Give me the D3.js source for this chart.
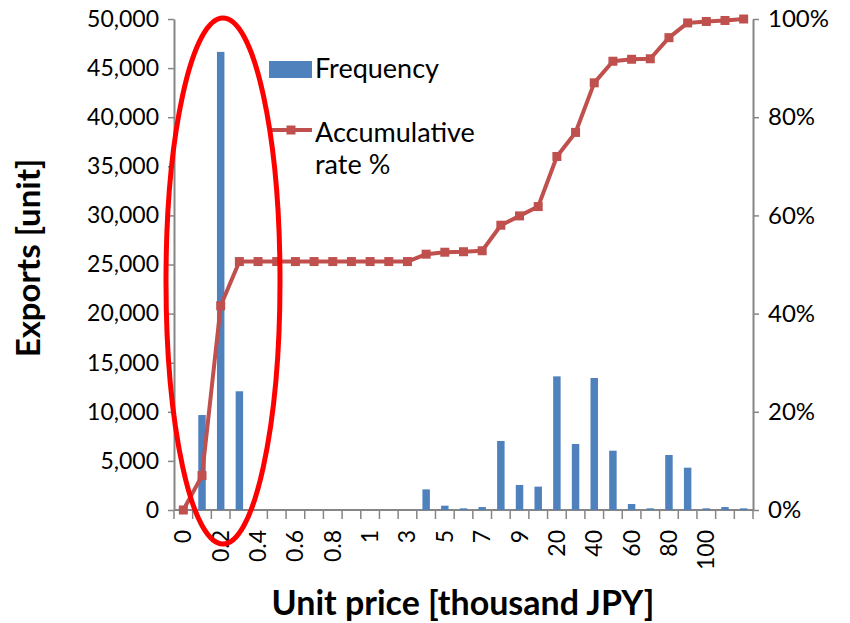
<!DOCTYPE html>
<html>
<head>
<meta charset="utf-8">
<script src="https://cdn.jsdelivr.net/npm/d3@7/dist/d3.min.js"></script>
<style>
  html, body { margin: 0; padding: 0; background: #ffffff; }
  svg { display: block; font-family: Lato, "Open Sans", sans-serif; }
</style>
</head>
<body>
<svg id="chart" width="850" height="623"></svg>
<script>
// Price classes (thousand JPY); every other one carries a label on the axis
const categories = ["0","0.1","0.2","0.3","0.4","0.5","0.6","0.7","0.8","0.9",
                    "1","2","3","4","5","6","7","8","9","10",
                    "20","30","40","50","60","70","80","90","100","110","120"];
const xTickLabels = ["0","0.2","0.4","0.6","0.8","1","3","5","7","9","20","40","60","80","100"];

// Number of exported units per price class
const frequency = [0, 9670, 46650, 12090, 0, 0, 0, 0, 0, 0,
                   0, 0, 0, 2100, 440, 170, 300, 7030, 2550, 2380,
                   13610, 6720, 13440, 6040, 610, 170, 5600, 4310, 170, 300, 170];

// Accumulative rate (%) up to each price class
const accumulative = [0, 7.0, 41.6, 50.6, 50.6, 50.6, 50.6, 50.6, 50.6, 50.6,
                      50.6, 50.6, 50.6, 52.1, 52.5, 52.6, 52.8, 58.0, 59.9, 61.8,
                      72.0, 76.9, 87.0, 91.4, 91.8, 91.9, 96.2, 99.2, 99.5, 99.7, 100];

const leftTicks = [0, 5000, 10000, 15000, 20000, 25000, 30000, 35000, 40000, 45000, 50000];
const rightTicks = [0, 20, 40, 60, 80, 100];

const barColor = "#4F81BD";
const lineColor = "#C0504D";
const axisColor = "#868686";

const svg = d3.select("#chart");
const plot = { left: 174, right: 753, top: 19, bottom: 510 };

const x = d3.scaleBand().domain(categories).range([plot.left, plot.right]).padding(0);
const yL = d3.scaleLinear().domain([0, 50000]).range([plot.bottom, plot.top]);
const yR = d3.scaleLinear().domain([0, 100]).range([plot.bottom, plot.top]);

const fmt = d3.format(",");

// Left axis
const gL = svg.append("g").attr("transform", `translate(${plot.left},0)`)
  .call(d3.axisLeft(yL).tickValues(leftTicks).tickFormat(fmt).tickSize(6).tickPadding(9).tickSizeOuter(0));
// Right axis
const gR = svg.append("g").attr("transform", `translate(${plot.right},0)`)
  .call(d3.axisRight(yR).tickValues(rightTicks).tickFormat(d => d + "%").tickSize(6).tickPadding(9).tickSizeOuter(0));

[gL, gR].forEach(g => {
  g.select(".domain").attr("stroke", axisColor).attr("stroke-width", 2);
  g.selectAll(".tick line").attr("stroke", axisColor).attr("stroke-width", 1.5);
  g.selectAll(".tick text").attr("fill", "#000").style("font-size", "23px")
    .style("font-family", "Lato, sans-serif");
});
gR.selectAll(".tick text").style("font-size", "24px");

// Bottom axis: tick marks sit between classes, labels at class centres
const gB = svg.append("g").attr("transform", `translate(0,${plot.bottom})`);
gB.append("line").attr("x1", plot.left).attr("x2", plot.right)
  .attr("stroke", axisColor).attr("stroke-width", 2);
const bounds = categories.map(c => x(c)).concat([x.range()[1]]);
gB.selectAll("line.tickmark").data(bounds).join("line")
  .attr("class", "tickmark")
  .attr("x1", d => d).attr("x2", d => d).attr("y1", 0).attr("y2", 9)
  .attr("stroke", axisColor).attr("stroke-width", 1.5);
const labelIndex = xTickLabels.map(l => categories.indexOf(l));
gB.selectAll("text.xlab").data(labelIndex).join("text")
  .attr("class", "xlab")
  .attr("transform", i => `translate(${x(categories[i]) + x.bandwidth() / 2 + 8},20) rotate(-90)`)
  .attr("text-anchor", "end")
  .style("font-size", "23px")
  .text(i => categories[i]);

// Frequency bars
const barW = x.bandwidth() * 0.4;
svg.append("g").selectAll("rect").data(categories).join("rect")
  .attr("x", (c) => x(c) + (x.bandwidth() - barW) / 2)
  .attr("y", (c, i) => yL(frequency[i]))
  .attr("width", barW)
  .attr("height", (c, i) => plot.bottom - yL(frequency[i]))
  .attr("fill", barColor);

// Accumulative rate line with square markers
const pts = categories.map((c, i) => [x(c) + x.bandwidth() / 2, yR(accumulative[i])]);
svg.append("path").datum(pts)
  .attr("d", d3.line())
  .attr("fill", "none").attr("stroke", lineColor).attr("stroke-width", 4)
  .attr("stroke-linejoin", "round");
const m = 9;
svg.append("g").selectAll("rect").data(pts).join("rect")
  .attr("x", d => d[0] - m / 2).attr("y", d => d[1] - m / 2)
  .attr("width", m).attr("height", m).attr("fill", lineColor);

// Legend
const lg = svg.append("g").style("font-size", "27px");
lg.append("rect").attr("x", 269).attr("y", 61).attr("width", 43).attr("height", 17).attr("fill", barColor);
lg.append("text").attr("x", 315).attr("y", 78).text("Frequency");
lg.append("line").attr("x1", 270).attr("x2", 312).attr("y1", 130).attr("y2", 130)
  .attr("stroke", lineColor).attr("stroke-width", 4);
lg.append("rect").attr("x", 291 - m / 2).attr("y", 130 - m / 2).attr("width", m).attr("height", m).attr("fill", lineColor);
lg.append("text").attr("x", 315).attr("y", 142).text("Accumulative");
lg.append("text").attr("x", 315).attr("y", 174).text("rate %");

// Axis titles
svg.append("text")
  .attr("transform", "translate(40,258) rotate(-90)")
  .attr("text-anchor", "middle")
  .style("font-size", "33px").style("font-weight", "bold")
  .text("Exports [unit]");
svg.append("text")
  .attr("x", 463).attr("y", 615)
  .attr("text-anchor", "middle")
  .style("font-size", "34px").style("font-weight", "bold")
  .text("Unit price [thousand JPY]");

// Highlight around the low-price classes
svg.append("ellipse")
  .attr("cx", 223).attr("cy", 281).attr("rx", 57).attr("ry", 263)
  .attr("fill", "none").attr("stroke", "#FF0000").attr("stroke-width", 5);
</script>
</body>
</html>
